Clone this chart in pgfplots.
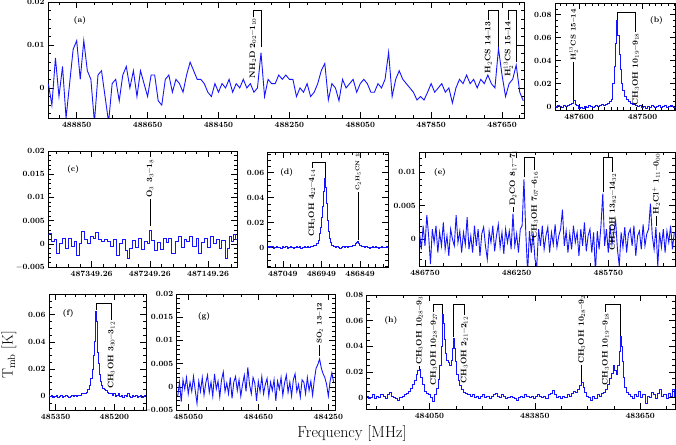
\documentclass[border=0pt]{standalone}
\usepackage{fontspec}
\usepackage{pgfplots}
\pgfplotsset{compat=1.18}
\definecolor{specblue}{RGB}{20,20,255}
\tikzset{annot/.style={black, line width=0.5bp},
  lbl/.style={font=\fontsize{8}{9}\selectfont\bfseries, inner sep=1bp},
  slbl/.style={font=\fontsize{7}{8}\selectfont\bfseries, inner sep=1bp}}
\pgfplotsset{panel/.style={scale only axis, x dir=reverse, anchor=south west, scaled ticks=false,
    axis line style={line width=0.6bp}, tick align=inside,
    major tick length=6bp, minor tick length=3bp,
    every tick/.style={black,line width=0.5bp},
    tick label style={font=\fontsize{8}{9}\selectfont\bfseries},
    xticklabel style={yshift=-1bp}},
  spec/.style={draw=specblue, color=specblue, line width=0.9bp, const plot mark mid, mark=none},
  specsharp/.style={draw=specblue, color=specblue, line width=0.9bp, sharp plot, mark=none}}
\newcommand{\lineup}[4]{\draw[annot] (axis cs:#1,#2) -- (axis cs:#1,#3) node[rotate=90,anchor=west,lbl] {#4};}
\newcommand{\slineup}[4]{\draw[annot] (axis cs:#1,#2) -- (axis cs:#1,#3) node[rotate=90,anchor=west,slbl] {#4};}
\newcommand{\bracket}[6]{\draw[annot] (axis cs:#1,#2) -- (axis cs:#1,#3) -- (axis cs:#4,#3) -- (axis cs:#4,#5) node[rotate=90,anchor=east,lbl] {#6};}
\newcommand{\plab}[3]{\node[lbl] at (axis cs:#1,#2) {#3};}
\begin{document}
\begin{tikzpicture}
\useasboundingbox (0,0) rectangle (676bp,445bp);
% (a)
\begin{axis}[panel, at={(48bp,327bp)}, width=476bp, height=116bp,
  xmin=487588, xmax=488931, ymin=-0.007, ymax=0.02,
  xtick={488850,488650,488450,488250,488050,487850,487650},
  xticklabels={488850,488650,488450,488250,488050,487850,487650},
  minor xtick={488900,488800,488750,488700,488600,488550,488500,488400,488350,488300,488200,488150,488100,488000,487950,487900,487800,487750,487700,487600},
  ytick={0,0.01,0.02}, yticklabels={0,0.01,0.02},
  minor ytick={-0.006,-0.004,-0.002,0.002,0.004,0.006,0.008,0.012,0.014,0.016,0.018}]
\addplot[specsharp] coordinates {
(488930,0.001)(488920,-0.004)(488910,0.007)(488900,-0.002)(488890,0.005)(488880,-0.007)(488870,0.001)(488860,0.009)(488850,0.011)(488840,0.002)
(488830,0.011)(488820,0.004)(488810,0.002)(488800,-0.008)(488790,0.003)(488780,0.004)(488770,-0.002)(488760,-0.008)(488750,0.001)(488740,0.002)
(488730,-0.003)(488720,0.003)(488710,0.005)(488700,0.000)(488690,0.004)(488680,-0.002)(488670,0.004)(488660,0.001)(488650,-0.002)(488640,0.003)
(488630,0.003)(488620,-0.003)(488610,-0.004)(488600,0.002)(488590,0.003)(488580,-0.001)(488570,0.002)(488560,0.001)(488550,-0.001)(488540,0.003)
(488530,0.006)(488520,0.004)(488510,0.002)(488500,0.002)(488490,0.001)(488480,-0.001)(488470,-0.002)(488460,0.001)(488450,-0.001)(488440,0.001)
(488430,0.000)(488420,0.002)(488410,-0.001)(488400,0.001)(488390,0.000)(488380,0.002)(488370,0.000)(488360,0.001)(488350,-0.001)(488340,0.000)
(488330,0.0082)(488320,-0.002)(488310,0.002)(488300,0.001)(488290,0.001)(488280,0.003)(488270,0.002)(488260,0.003)(488250,0.002)(488240,0.002)
(488230,-0.002)(488220,0.000)(488210,-0.001)(488200,0.001)(488190,-0.002)(488180,-0.001)(488170,0.001)(488160,0.004)(488150,0.0057)(488140,-0.0028)
(488130,0.001)(488120,0.000)(488110,-0.003)(488100,0.002)(488090,0.000)(488080,0.001)(488070,0.002)(488060,-0.001)(488050,0.001)(488040,0.002)
(488030,0.001)(488020,-0.001)(488010,-0.001)(488000,0.001)(487990,0.000)(487980,0.002)(487970,0.0083)(487960,-0.002)(487950,0.002)(487940,0.004)
(487930,0.002)(487920,0.001)(487910,0.000)(487900,-0.001)(487890,-0.0028)(487880,-0.002)(487870,-0.0028)(487860,-0.001)(487850,0.001)(487840,-0.001)
(487830,0.000)(487820,0.001)(487810,-0.001)(487800,0.000)(487790,-0.0035)(487780,0.000)(487770,0.002)(487760,0.001)(487750,0.003)(487740,0.001)
(487730,0.002)(487720,0.000)(487710,0.002)(487700,0.001)(487690,0.003)(487680,0.001)(487670,0.000)(487660,0.0092)(487650,0.003)(487640,-0.002)
(487630,0.001)(487620,0.002)(487610,0.0053)(487600,-0.001)(487590,-0.003)};
\bracket{488330}{0.0095}{0.018}{488353}{0.0166}{NH$_2$D 2$_{02}$--1$_{10}$}
\bracket{487660}{0.0096}{0.018}{487689}{0.0158}{H$_2$CS 14--13}
\bracket{487610}{0.006}{0.018}{487632}{0.0158}{H$_2^{13}$CS 15--14}
\draw[annot] (axis cs:487609,0.01) -- (axis cs:487588,0.01);
\plab{488841}{0.0158}{(a)}
\end{axis}
% (b)
\begin{axis}[panel, at={(555bp,335bp)}, width=120.5bp, height=107bp,
  xmin=487448, xmax=487638, ymin=-0.003, ymax=0.09,
  xtick={487600,487500}, xticklabels={487600,487500},
  minor xtick={487630,487620,...,487450},
  ytick={0,0.02,0.04,0.06,0.08}, yticklabels={0,0.02,0.04,0.06,0.08},
  minor ytick={0.005,0.01,0.015,0.025,0.03,0.035,0.045,0.05,0.055,0.065,0.07,0.075,0.085}]
\addplot[spec] coordinates {
(487638,0.000)(487635,-0.001)(487632,0.001)(487629,0.000)(487626,-0.001)(487623,0.001)(487620,0.000)(487617,0.001)(487614,0.002)(487611,0.003)
(487608,0.005)(487605,0.002)(487602,0.001)(487599,-0.002)(487596,-0.001)(487593,-0.002)(487590,0.000)(487587,-0.001)(487584,0.001)(487581,0.000)
(487578,-0.001)(487575,0.000)(487572,0.001)(487569,0.000)(487566,0.001)(487563,0.002)(487560,0.001)(487557,0.002)(487554,0.003)(487551,0.004)
(487548,0.006)(487546,0.02)(487544,0.035)(487542,0.055)(487540,0.0745)(487538,0.062)(487536,0.045)(487534,0.032)(487532,0.020)(487530,0.014)
(487527,0.009)(487524,0.006)(487521,0.004)(487518,0.003)(487515,0.002)(487512,0.002)(487509,0.001)(487506,0.000)(487503,0.001)(487500,-0.001)
(487497,0.000)(487494,-0.002)(487491,0.000)(487488,-0.001)(487485,0.001)(487482,0.000)(487479,-0.001)(487476,0.000)(487473,0.001)(487470,-0.001)
(487467,0.000)(487464,0.001)(487461,-0.001)(487458,0.000)(487455,0.001)(487452,0.000)(487449,-0.001)};
\slineup{487609}{0.006}{0.039}{H$_2^{13}$CS 15--14}
\bracket{487540}{0.075}{0.0822}{487511}{0.065}{CH$_3$OH 10$_{19}$--9$_{18}$}
\plab{487478}{0.075}{(b)}
\end{axis}
% (c)
\begin{axis}[panel, at={(48.3bp,178bp)}, width=188.7bp, height=116bp,
  xmin=487099.5, xmax=487423.7, ymin=-0.005, ymax=0.02,
  xtick={487349.26,487249.26,487149.26}, xticklabels={487349.26,487249.26,487149.26},
  minor xtick={487409.26,487389.26,487369.26,487329.26,487309.26,487289.26,487269.26,487229.26,487209.26,487189.26,487169.26,487129.26,487109.26},
  ytick={-0.005,0,0.005,0.01,0.015,0.02}, yticklabels={$-$0.005,0,0.005,0.01,0.015,0.02},
  minor ytick={-0.004,-0.003,-0.002,-0.001,0.001,0.002,0.003,0.004,0.006,0.007,0.008,0.009,0.011,0.012,0.013,0.014,0.016,0.017,0.018,0.019}]
\addplot[spec] coordinates {
(487424,0.002)(487420,0.0022)(487415,0.0005)(487412,0.001)(487407,-0.002)(487402,0.000)(487397,0.0012)(487392,-0.001)(487387,0.0012)(487382,-0.0005)
(487376,0.0005)(487373,-0.0025)(487368,0.000)(487364,0.0027)(487359,0.001)(487354,0.000)(487349,0.0015)(487344,0.0012)(487340,0.0025)(487335,0.001)
(487330,0.0005)(487325,0.001)(487320,0.0005)(487314,-0.0005)(487309,0.001)(487304,-0.0025)(487299,0.000)(487294,0.001)(487290,-0.0015)(487287,-0.0032)
(487282,-0.001)(487277,0.0008)(487272,-0.0008)(487267,0.0012)(487262,-0.0012)(487256,0.0005)(487252,0.000)(487249,0.0029)(487245,0.0008)(487239,-0.0015)
(487234,0.0003)(487229,-0.0012)(487224,0.0012)(487219,0.0003)(487214,0.0012)(487209,-0.002)(487203,0.0005)(487198,0.0015)(487193,-0.0008)(487188,0.001)
(487183,0.0005)(487178,0.0015)(487173,-0.0005)(487167,0.0012)(487164,-0.002)(487158,0.0003)(487153,0.0012)(487148,-0.0008)(487143,0.0015)(487138,0.000)
(487133,0.001)(487128,-0.001)(487123,0.0008)(487117,-0.0032)(487114,-0.001)(487110,0.0015)(487107,0.0005)(487104,0.002)(487100,0.001)};
\lineup{487249}{0.0038}{0.0097}{O$_3$ 3$_{3}$--1$_{8}$}
\plab{487381}{0.016}{(c)}
\end{axis}
% (d)
\begin{axis}[panel, at={(267.7bp,178bp)}, width=120.6bp, height=115bp,
  xmin=486776, xmax=487088, ymin=-0.0155, ymax=0.0765,
  xtick={487049,486949,486849}, xticklabels={487049,486949,486849},
  minor xtick={487069,487029,487009,486989,486969,486929,486909,486889,486869,486829,486809,486789},
  ytick={0,0.02,0.04,0.06}, yticklabels={0,0.02,0.04,0.06},
  minor ytick={-0.015,-0.01,-0.005,0.005,0.01,0.015,0.025,0.03,0.035,0.045,0.05,0.055,0.065,0.07,0.075}]
\addplot[spec] coordinates {
(487088,0.000)(487084,0.001)(487080,0.000)(487076,0.001)(487072,-0.001)(487068,0.000)(487064,0.001)(487060,0.000)(487056,0.000)(487052,-0.001)
(487048,0.001)(487044,0.000)(487040,0.001)(487036,-0.001)(487032,0.000)(487028,0.001)(487024,0.000)(487020,-0.001)(487016,0.000)(487012,0.001)
(487008,0.000)(487004,0.001)(487000,-0.001)(486996,0.000)(486992,0.001)(486988,0.000)(486984,0.001)(486980,0.000)(486976,0.001)(486972,0.001)
(486968,0.002)(486964,0.002)(486960,0.003)(486956,0.006)(486953,0.011)(486950,0.016)(486947,0.024)(486944,0.033)(486942,0.045)(486940,0.055)
(486938,0.048)(486936,0.035)(486933,0.022)(486930,0.013)(486927,0.007)(486924,0.004)(486920,0.002)(486916,0.001)(486912,0.000)(486908,0.001)
(486904,0.000)(486900,-0.001)(486896,0.000)(486892,0.001)(486888,0.000)(486884,0.001)(486880,0.000)(486876,0.001)(486872,0.001)(486868,0.002)
(486864,0.002)(486860,0.003)(486857,0.004)(486854,0.005)(486851,0.003)(486848,0.002)(486844,0.001)(486840,0.001)(486836,0.000)(486832,0.001)
(486828,0.000)(486824,-0.001)(486820,0.000)(486816,0.001)(486812,0.000)(486808,0.001)(486804,0.000)(486800,-0.001)(486796,0.000)(486792,0.001)
(486788,0.000)(486784,0.000)(486780,0.001)(486776,0.000)};
\bracket{486940}{0.056}{0.0685}{486974}{0.0634}{CH$_3$OH 4$_{22}$--4$_{14}$}
\draw[annot] (axis cs:486854,0.006) -- (axis cs:486854,0.0445) node[rotate=90,anchor=west,inner sep=1bp,font=\fontsize{5.5}{6}\selectfont\bfseries] {C$_2$H$_5$CN 13--12};
\plab{487039}{0.06}{(d)}
\end{axis}
% (e)
\begin{axis}[panel, at={(419.3bp,179bp)}, width=255.7bp, height=114bp,
  xmin=485386, xmax=486781, ymin=-0.004, ymax=0.013,
  xtick={486750,486250,485750}, xticklabels={486750,486250,485750},
  minor xtick={486650,486550,486450,486350,486150,486050,485950,485850,485650,485550,485450},
  ytick={0,0.005,0.01}, yticklabels={0,0.005,0.01},
  minor ytick={-0.003,-0.002,-0.001,0.001,0.002,0.003,0.004,0.006,0.007,0.008,0.009,0.011,0.012}]
\addplot[specsharp] coordinates {
(486780,0.001)(486770,-0.0015)(486760,0.002)(486750,-0.001)(486740,0.0036)(486730,0.0005)(486720,-0.0037)(486710,0.0015)(486700,-0.0005)(486690,0.002)
(486680,-0.002)(486670,0.001)(486660,-0.001)(486650,0.0025)(486640,-0.0015)(486630,0.0005)(486620,-0.0025)(486610,0.0015)(486600,0.0)(486590,-0.001)
(486580,0.0036)(486570,-0.0005)(486560,0.0012)(486550,-0.002)(486540,0.001)(486530,-0.0008)(486520,0.0033)(486510,-0.0015)(486500,0.0005)(486490,-0.002)
(486480,0.002)(486470,-0.001)(486460,0.0015)(486450,-0.0025)(486440,0.0008)(486430,0.0018)(486420,-0.001)(486410,-0.003)(486400,0.0012)(486390,-0.0005)
(486380,0.002)(486370,-0.0018)(486360,0.0005)(486350,0.0022)(486340,-0.0012)(486330,0.001)(486320,-0.0022)(486310,0.0015)(486300,-0.0005)(486290,0.0012)
(486280,-0.0015)(486270,0.0038)(486260,-0.001)(486250,0.0008)(486240,-0.002)(486230,0.0015)(486220,0.002)(486210,0.0089)(486200,0.001)(486190,-0.005)
(486180,0.0012)(486170,-0.002)(486160,0.001)(486150,-0.003)(486140,-0.004)(486130,0.0015)(486120,-0.001)(486110,0.002)(486100,-0.0015)(486090,0.0005)
(486080,0.0018)(486070,-0.002)(486060,0.001)(486050,-0.0008)(486040,0.0022)(486030,-0.0012)(486020,0.0005)(486010,0.0015)(486000,0.0044)(485990,-0.001)
(485980,0.0012)(485970,-0.002)(485960,0.0008)(485950,-0.0015)(485940,0.002)(485930,-0.0005)(485920,0.001)(485910,-0.0025)(485900,0.0015)(485890,-0.001)
(485880,0.0025)(485870,-0.0018)(485860,0.0005)(485850,0.0015)(485840,-0.002)(485830,0.001)(485820,-0.005)(485810,0.0012)(485800,-0.0015)(485790,0.002)
(485780,0.0068)(485770,-0.001)(485760,0.0015)(485750,-0.002)(485740,0.002)(485730,-0.0008)(485720,0.001)(485710,0.0028)(485700,-0.0015)(485690,-0.004)
(485680,0.001)(485670,-0.0012)(485660,0.0018)(485650,-0.002)(485640,0.0008)(485630,0.0015)(485620,-0.001)(485610,0.002)(485600,-0.0025)(485590,0.0005)
(485580,0.0012)(485570,-0.0015)(485560,0.0022)(485550,-0.001)(485540,0.0008)(485530,0.0015)(485520,0.0053)(485510,0.0005)(485500,-0.0015)(485490,0.0018)
(485480,-0.004)(485470,0.001)(485460,-0.0012)(485450,0.0015)(485440,-0.002)(485430,0.0012)(485420,-0.0005)(485410,0.002)(485400,-0.0015)(485390,0.001)};
\lineup{486270}{0.0041}{0.0048}{D$_2$CO 8$_{17}$--7$_{16}$}
\bracket{486210}{0.0092}{0.0122}{486155}{0.0103}{$^{13}$CH$_3$OH 7$_{07}$--6$_{16}$}
\bracket{485780}{0.0071}{0.0122}{485726}{0.0100}{CH$_3$OH 13$_{82}$--14$_{32}$}
\lineup{485490}{0.0019}{0.0035}{H$_2$Cl$^+$ 1$_{11}$--0$_{00}$}
\plab{486668}{0.0099}{(e)}
\end{axis}
% (f)
\begin{axis}[panel, at={(49bp,35bp)}, width=97bp, height=116bp,
  xmin=485119, xmax=485367, ymin=-0.01, ymax=0.075,
  xtick={485350,485200}, xticklabels={485350,485200},
  minor xtick={485325,485300,485275,485250,485225,485175,485150,485125},
  ytick={0,0.02,0.04,0.06}, yticklabels={0,0.02,0.04,0.06},
  minor ytick={-0.005,0.005,0.01,0.015,0.025,0.03,0.035,0.045,0.05,0.055,0.065,0.07}]
\addplot[spec] coordinates {
(485367,0.001)(485363,0.000)(485359,0.001)(485355,-0.001)(485351,0.000)(485347,0.001)(485343,-0.001)(485339,0.000)(485335,0.001)(485331,-0.001)
(485327,0.000)(485323,0.001)(485319,0.000)(485315,-0.001)(485311,0.000)(485307,0.001)(485303,0.000)(485299,0.001)(485295,0.000)(485291,0.001)
(485287,0.001)(485283,0.002)(485279,0.002)(485275,0.002)(485270,0.003)(485266,0.005)(485262,0.008)(485258,0.013)(485254,0.020)(485251,0.030)
(485249,0.040)(485247,0.062)(485245,0.055)(485243,0.047)(485241,0.032)(485239,0.024)(485237,0.016)(485234,0.011)(485231,0.008)(485228,0.006)
(485224,0.005)(485220,0.004)(485216,0.003)(485212,0.002)(485208,0.002)(485204,0.001)(485200,0.002)(485196,0.000)(485192,0.001)(485188,0.002)
(485184,0.000)(485180,0.001)(485176,-0.001)(485172,0.001)(485168,0.000)(485164,0.002)(485160,0.000)(485156,-0.001)(485152,0.001)(485148,0.000)
(485144,0.001)(485140,-0.001)(485136,0.000)(485132,0.001)(485128,-0.001)(485124,0.000)(485120,0.001)};
\bracket{485247}{0.063}{0.068}{485208}{0.0558}{CH$_3$OH 3$_{30}$--3$_{12}$}
\plab{485318}{0.061}{(f)}
\end{axis}
% (g)
\begin{axis}[panel, at={(176.7bp,35bp)}, width=158.3bp, height=116bp,
  xmin=484212, xmax=485116, ymin=-0.005, ymax=0.02,
  xtick={485050,484650,484250}, xticklabels={485050,484650,484250},
  minor xtick={484950,484850,484750,484550,484450,484350},
  ytick={-0.005,0,0.005,0.01,0.015,0.02}, yticklabels={$-$0.005,0,0.005,0.01,0.015,0.02},
  minor ytick={-0.004,-0.003,-0.002,-0.001,0.001,0.002,0.003,0.004,0.006,0.007,0.008,0.009,0.011,0.012,0.013,0.014,0.016,0.017,0.018,0.019}]
\addplot[specsharp] coordinates {
(485110,-0.002)(485100,0.001)(485090,-0.0032)(485080,0.0015)(485070,-0.0005)(485060,0.002)(485050,-0.0015)(485040,0.001)(485030,-0.001)(485020,0.0022)
(485010,-0.0008)(485000,-0.0036)(484990,0.0012)(484980,-0.001)(484970,0.002)(484960,-0.0018)(484950,0.0008)(484940,0.0025)(484930,-0.0012)(484920,0.001)
(484910,-0.002)(484900,0.0028)(484890,-0.0005)(484880,0.0012)(484870,-0.0022)(484860,0.0015)(484850,0.0032)(484840,-0.001)(484830,0.0008)(484820,-0.0015)
(484810,0.002)(484800,-0.0025)(484790,0.001)(484780,0.0022)(484770,-0.0008)(484760,0.0015)(484750,-0.002)(484740,0.0005)(484730,0.0025)(484720,-0.001)
(484710,0.0042)(484700,0.0005)(484690,-0.0015)(484680,0.002)(484670,0.0008)(484660,-0.003)(484650,0.0012)(484640,-0.001)(484630,0.0022)(484620,-0.0015)
(484610,0.0005)(484600,0.0018)(484590,-0.002)(484580,0.001)(484570,-0.0008)(484560,0.0015)(484550,-0.003)(484540,0.0012)(484530,-0.0005)(484520,0.002)
(484510,-0.0018)(484500,0.0008)(484490,0.0025)(484480,-0.0012)(484470,0.001)(484460,-0.002)(484450,0.0015)(484440,0.0028)(484430,-0.001)(484420,0.0005)
(484410,-0.0022)(484400,0.0015)(484390,0.001)(484380,-0.0015)(484370,0.002)(484360,-0.0008)(484350,0.0012)(484340,-0.0018)(484330,0.0015)(484320,0.004)
(484310,0.0048)(484300,0.006)(484290,0.004)(484280,0.0028)(484270,0.002)(484260,0.0005)(484250,-0.002)(484240,0.0012)(484230,0.003)(484220,0.001)};
\slineup{484300}{0.0066}{0.009}{SO$_2$ 13--12}
\plab{484960}{0.0151}{(g)}
\end{axis}
% (h)
\begin{axis}[panel, at={(366.7bp,36bp)}, width=308.3bp, height=114bp,
  xmin=483584, xmax=484169, ymin=-0.009, ymax=0.08,
  xtick={484050,483850,483650}, xticklabels={484050,483850,483650},
  minor xtick={484150,484100,484000,483950,483900,483800,483750,483700,483600},
  ytick={0,0.02,0.04,0.06,0.08}, yticklabels={0,0.02,0.04,0.06,0.08},
  minor ytick={-0.005,0.005,0.01,0.015,0.025,0.03,0.035,0.045,0.05,0.055,0.065,0.07,0.075}]
\addplot[spec] coordinates {
(484168,0.001)(484164,-0.001)(484160,0.000)(484156,0.002)(484152,-0.001)(484148,0.001)(484144,0.000)(484140,0.002)(484136,0.001)(484132,-0.001)
(484128,0.002)(484124,0.004)(484120,0.001)(484116,0.000)(484112,-0.001)(484108,-0.002)(484104,0.000)(484100,0.001)(484096,0.002)(484092,0.003)
(484088,0.005)(484084,0.007)(484080,0.010)(484077,0.013)(484074,0.018)(484071,0.021)(484068,0.022)(484065,0.016)(484062,0.010)(484058,0.005)
(484054,0.003)(484050,0.002)(484046,0.000)(484042,-0.003)(484038,0.002)(484035,0.007)(484032,0.014)(484029,0.025)(484027,0.040)(484025,0.0645)
(484023,0.058)(484021,0.045)(484019,0.034)(484016,0.029)(484013,0.027)(484010,0.025)(484008,0.029)(484006,0.038)(484004,0.046)(484002,0.038)
(484000,0.028)(483997,0.018)(483994,0.013)(483991,0.009)(483987,0.006)(483983,0.004)(483979,0.003)(483975,0.002)(483971,0.001)(483967,0.002)
(483963,0.000)(483959,0.001)(483955,-0.001)(483951,0.001)(483947,0.002)(483943,0.000)(483939,0.001)(483935,-0.001)(483931,0.001)(483927,0.002)
(483923,0.003)(483919,0.001)(483915,0.000)(483911,0.002)(483907,0.001)(483903,-0.001)(483899,0.000)(483895,0.001)(483891,0.000)(483887,-0.001)
(483883,-0.002)(483879,0.000)(483875,0.001)(483871,0.000)(483867,0.002)(483863,0.001)(483859,0.000)(483855,0.001)(483851,-0.001)(483847,0.001)
(483843,0.002)(483839,0.001)(483835,0.000)(483831,0.001)(483827,-0.001)(483823,0.002)(483819,0.003)(483815,0.0055)(483811,0.002)(483807,0.000)
(483803,0.001)(483799,-0.001)(483795,0.001)(483791,0.000)(483787,0.002)(483783,0.001)(483779,0.003)(483775,0.005)(483771,0.004)(483767,0.006)
(483763,0.009)(483760,0.0115)(483757,0.008)(483754,0.004)(483750,0.001)(483746,0.000)(483742,-0.002)(483738,0.001)(483734,-0.001)(483730,0.002)
(483726,0.001)(483722,0.003)(483718,0.004)(483714,0.006)(483710,0.010)(483706,0.015)(483703,0.019)(483700,0.025)(483697,0.021)(483694,0.018)
(483691,0.025)(483689,0.036)(483687,0.0475)(483685,0.040)(483683,0.028)(483681,0.016)(483678,0.008)(483675,0.004)(483671,0.002)(483667,0.001)
(483663,-0.001)(483659,0.002)(483655,0.001)(483651,0.005)(483647,0.000)(483643,0.002)(483639,-0.005)(483635,0.001)(483631,0.000)(483627,0.004)
(483623,0.002)(483619,-0.001)(483615,0.003)(483611,0.006)(483607,0.001)(483603,0.002)(483599,-0.001)(483595,0.003)(483591,0.001)(483587,0.006)
(483584,0.001)};
\lineup{484069}{0.0225}{0.0245}{CH$_3$OH 10$_{28}$--9$_{38}$}
\bracket{484025}{0.065}{0.073}{484042}{0.067}{CH$_3$OH 10$_{28}$--9$_{27}$}
\bracket{484004}{0.047}{0.073}{483984}{0.0644}{CH$_3$OH 2$_{21}$--2$_{12}$}
\lineup{483761}{0.0118}{0.0253}{CH$_3$OH 10$_{28}$--9$_{27}$}
\bracket{483687}{0.048}{0.073}{483716}{0.067}{CH$_3$OH 10$_{19}$--9$_{18}$}
\plab{484123}{0.06}{(h)}
\end{axis}
\node[rotate=90, font=\fontsize{15}{18}\selectfont] at (9bp,90bp) {T$_{\mathrm{mb}}$ [K]};
\node[font=\fontsize{16}{19}\selectfont] at (352bp,11bp) {Frequency [MHz]};
\end{tikzpicture}
\end{document}
